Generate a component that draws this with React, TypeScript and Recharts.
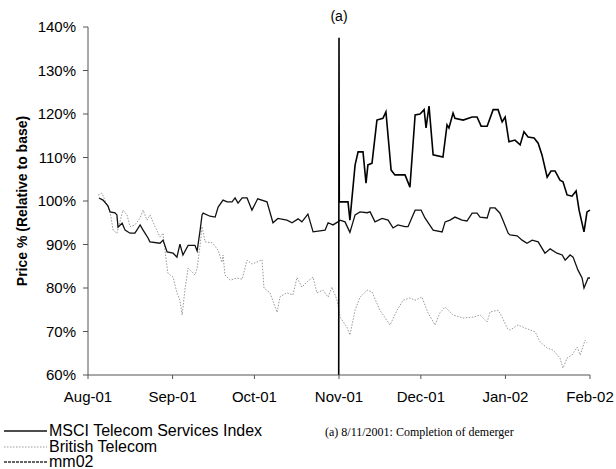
import React from 'react';
import { LineChart, Line, XAxis, YAxis, ReferenceLine } from 'recharts';

// x = days since 1 Aug 2001
const monthTicks = [0, 31, 61, 92, 122, 153, 184];
const monthLabels = ['Aug-01', 'Sep-01', 'Oct-01', 'Nov-01', 'Dec-01', 'Jan-02', 'Feb-02'];
const yTicks = [60, 70, 80, 90, 100, 110, 120, 130, 140];

const msciDays = [4, 5.5, 7.3, 8.1, 9.9, 10.6, 11, 12.5, 13.6, 15.4, 17.2, 19.1, 20.2, 22, 22.7, 26.4, 27.5, 29, 31.2, 32.6, 33.7, 34.8, 36.7, 39.2, 40, 41.1, 41.8, 42.2, 44.7, 46.6, 47.7, 49.5, 51, 52.8, 53.9, 55, 56.5, 58.3, 60.1, 62.2, 65.6, 67.8, 69.6, 72.9, 74.8, 77, 78.4, 80.6, 82.5, 86.9, 88, 89.8, 91.6, 92.4, 94.2, 96, 97.9, 99.7, 102.3, 103.4, 105.2, 107.8, 110, 111.8, 113.6, 116.2, 117.3, 119.9, 122.1, 123.5, 126.5, 129.8, 130.9, 132.7, 134.5, 137.1, 138.9, 140.8, 142.6, 143.7, 146.3, 147.4, 149.2, 151, 152.1, 154, 154.7, 157.3, 159.1, 160.9, 162.8, 165, 167.5, 169.4, 171.9, 173.8, 174.9, 176.7, 177.8, 179.6, 181.1, 181.8, 183.3, 184];
const msciValues = [100.7, 100.2, 98.9, 97.5, 97.3, 96.8, 94, 94.9, 93.3, 92.6, 92.6, 94.5, 93.3, 91.5, 90.6, 90.3, 91, 88.3, 88, 87.1, 90.1, 87.6, 89.8, 89.8, 88.5, 93.3, 96.8, 97.2, 96.5, 96.3, 98.6, 100.2, 99.8, 99.8, 100.7, 99.5, 100.7, 100.7, 97.9, 100.5, 99.8, 95, 96, 95.6, 95, 95.9, 95.2, 97, 92.9, 93.3, 95, 94.5, 95.2, 95.6, 95.2, 92.8, 96.8, 97.5, 97.3, 97.5, 95.2, 96, 95.6, 93.8, 94.5, 94.1, 94.1, 97.9, 97.9, 96.1, 93.3, 92.9, 95.2, 95.6, 96.3, 95.6, 95.4, 97.2, 97.2, 96.3, 96.1, 98.4, 98.4, 97.2, 95.6, 92.6, 92.2, 92, 91, 90.3, 91, 90.6, 88, 89, 88, 87.6, 86.4, 87.6, 87.1, 84.1, 82.3, 80, 82.3, 82.3];

const btDays = [3.7, 5.1, 6.2, 8.1, 9.2, 10.6, 11.7, 12.8, 14.3, 15.4, 17.2, 19.1, 20.2, 21.6, 22.7, 24.6, 26.4, 27.5, 28.2, 29.3, 31.2, 32.6, 33.7, 34.5, 35.6, 36.7, 39.2, 40, 41.1, 41.8, 42.9, 45.5, 47.7, 49.1, 49.5, 50.2, 52.1, 54.6, 56.5, 58.3, 60.1, 62, 63.8, 64.5, 66.7, 69.3, 70.4, 72.9, 75.1, 76.6, 78.4, 80.6, 82.5, 83.9, 86.1, 88, 89.4, 91.3, 92.4, 94.9, 96, 97.9, 99.7, 102.3, 104.1, 107, 110.7, 113.3, 115.5, 118, 119.9, 122.4, 124.6, 127.2, 129, 130.9, 133.8, 137.5, 141.1, 143.7, 146.3, 147.4, 150.3, 151.8, 153.6, 154.7, 157.6, 160.2, 163.9, 165.7, 168.3, 170.5, 173, 174.1, 175.6, 177.4, 179.3, 180.4, 182.2, 182.9];
const btValues = [101.4, 101.8, 100.2, 97.5, 93.3, 92.6, 95.2, 97.9, 96.8, 94.1, 94.5, 96.1, 97.9, 95.6, 96.8, 94.1, 91.7, 92.6, 88.7, 83.4, 82.5, 78.9, 77.2, 73.8, 80, 84.6, 83, 84.5, 89.9, 94.1, 90.6, 90.4, 88.7, 85.9, 87.6, 83, 81.8, 82.3, 82, 86.4, 85.5, 86, 86.5, 80, 78.9, 74.4, 78, 78.9, 78.4, 82.4, 80.2, 81.6, 82.5, 78.9, 79.5, 77.9, 80.2, 77.2, 73.3, 71, 69.2, 74.9, 77.9, 79.5, 79.1, 74.9, 71.5, 74.9, 77.2, 77.7, 77.2, 77.9, 74.3, 71.5, 74.3, 75.6, 73.8, 73.1, 73.3, 73.8, 72.2, 74.5, 74.9, 73.3, 70.8, 70.3, 71.5, 70.8, 69.9, 67.6, 66.2, 65.7, 63.9, 61.6, 63.9, 64.6, 66.4, 64.6, 68, 67.4];

const mm02Days = [91.9, 92, 92.1, 92.4, 95.3, 96, 97.9, 99, 100.8, 101.9, 102.6, 104.1, 105.9, 108.1, 109.2, 111.1, 112.5, 116.2, 118, 119.9, 121.7, 123.2, 123.9, 125, 126.5, 130.1, 131.6, 132.3, 133.8, 134.5, 137.5, 140.8, 142.6, 144.1, 146.3, 148.5, 150.3, 151.8, 152.9, 154.3, 156.5, 158.4, 159.8, 161.3, 163.5, 165, 166.4, 168.3, 169.7, 171.2, 173, 174.1, 175.6, 177.4, 178.9, 180, 181.8, 182.9, 184];
const mm02Values = [60, 137.5, 99.8, 99.8, 99.8, 95.6, 108.3, 111.3, 111.3, 104.1, 108.3, 108.7, 118.6, 119, 120.5, 107.1, 106, 106, 103.2, 119.8, 120, 121, 116.8, 121.8, 110.6, 110.1, 117.5, 116.8, 120.2, 119, 118.6, 119.3, 119.3, 117.2, 117.2, 121, 121, 118.2, 119.3, 113.6, 114, 112.9, 115.9, 114.7, 114.5, 113.3, 110.6, 105.5, 106.9, 106.9, 104.8, 104.4, 101.4, 101.1, 102.3, 97.9, 92.9, 97.5, 97.9];

const zip = (days: number[], values: number[]) => days.map((day, i) => ({ day, v: values[i] }));
const msciData = zip(msciDays, msciValues);
const btData = zip(btDays, btValues);
const mm02Data = zip(mm02Days, mm02Values);

const legendItems = [
    { name: 'MSCI Telecom Services Index', stroke: '#111', dash: undefined, width: 1.3 },
    { name: 'British Telecom', stroke: '#999', dash: '1.5 1.5', width: 1 },
    { name: 'mm02', stroke: '#333', dash: '3 1', width: 1.3 },
];

const font = '"Liberation Sans", Arial, sans-serif';

function LegendBox() {
    return (
        <div style={{ position: 'absolute', left: 0, top: 423, fontFamily: font, fontSize: 16, color: '#000' }}>
            {legendItems.map((item, i) => (
                <div key={item.name} style={{ position: 'absolute', left: 0, top: i * 15.5, height: 15, whiteSpace: 'nowrap', display: 'flex', alignItems: 'center', lineHeight: '15px' }}>
                    <svg width={49} height={15} style={{ display: 'block' }}>
                        <line x1={4} x2={47} y1={8} y2={8} stroke={item.stroke} strokeWidth={item.width} strokeDasharray={item.dash} />
                    </svg>
                    <span>{item.name}</span>
                </div>
            ))}
        </div>
    );
}

export default function App() {
    return (
        <div style={{ position: 'relative', width: 616, height: 469, background: '#fff' }}>
            <style>{`body{margin:0}`}</style>
            <LineChart width={616} height={469} margin={{ top: 27, right: 26, left: 0, bottom: 0 }}>
                <XAxis
                    type="number"
                    dataKey="day"
                    domain={[0, 184]}
                    ticks={monthTicks}
                    tickFormatter={(d: number) => monthLabels[monthTicks.indexOf(d)]}
                    stroke="#555"
                    tickSize={4}
                    tickMargin={12}
                    tick={{ fontSize: 15, fill: '#000', fontFamily: font }}
                    interval={0}
                    height={94}
                />
                <YAxis
                    type="number"
                    domain={[60, 140]}
                    ticks={yTicks}
                    width={88}
                    stroke="#555"
                    tickSize={5}
                    tickMargin={7}
                    tickFormatter={(v: number) => `${v}%`}
                    tick={{ fontSize: 15, fill: '#000', fontFamily: font }}
                    interval={0}
                    label={{
                        value: 'Price % (Relative to base)',
                        angle: -90,
                        position: 'insideLeft',
                        offset: 22,
                        style: { textAnchor: 'middle', fontSize: 14, fontWeight: 700, fill: '#000', fontFamily: font },
                    }}
                />
                <ReferenceLine
                    x={92}
                    stroke="none"
                    label={{ value: '(a)', position: 'top', offset: 6, style: { fontSize: 14, fill: '#000', fontFamily: font } }}
                />
                <Line data={btData} dataKey="v" name="British Telecom" type="linear" stroke="#999" strokeWidth={1} strokeDasharray="1.5 1.5" dot={false} isAnimationActive={false} />
                <Line data={msciData} dataKey="v" name="MSCI Telecom Services Index" type="linear" stroke="#111" strokeWidth={1.3} dot={false} isAnimationActive={false} />
                <Line data={mm02Data} dataKey="v" name="mm02" type="linear" stroke="#000" strokeWidth={1.6} dot={false} isAnimationActive={false} />
            </LineChart>
            <LegendBox />
            <div style={{ position: 'absolute', left: 325, top: 425, fontFamily: '"Liberation Serif", "Times New Roman", serif', fontSize: 12, color: '#000', whiteSpace: 'nowrap' }}>
                (a) 8/11/2001: Completion of demerger
            </div>
        </div>
    );
}
